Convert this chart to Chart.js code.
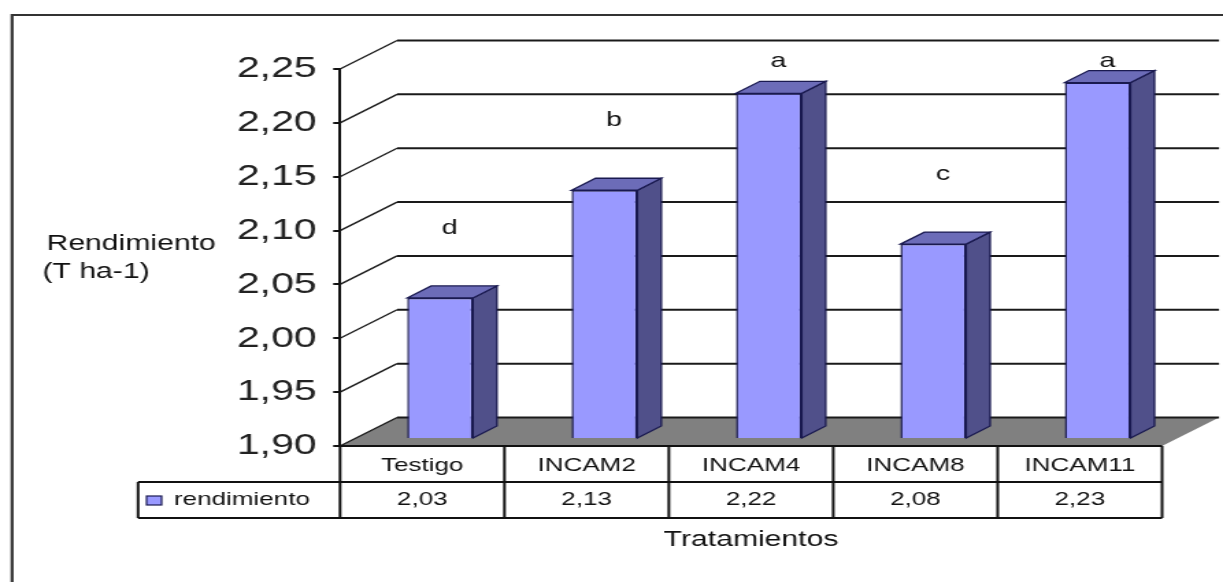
<!DOCTYPE html>
<html>
<head>
<meta charset="utf-8">
<script src="https://cdn.jsdelivr.net/npm/chart.js@4/dist/chart.umd.min.js"></script>
<style>
  html, body { margin: 0; padding: 0; background: #fff; overflow: hidden; }
  /* the picture is an old Excel export stretched sideways, so the canvas is too */
  #rendChart { display: block; width: 1223px; height: 582px; }
</style>
</head>
<body>
<canvas id="rendChart" width="893" height="582" style="width:1223px;height:582px"></canvas>
<script>
// datos
const tratamientos = ['Testigo', 'INCAM2', 'INCAM4', 'INCAM8', 'INCAM11'];
const rendimiento = [2.03, 2.13, 2.22, 2.08, 2.23];
const letras = ['d', 'b', 'a', 'c', 'a'];
const yTicks = [1.90, 1.95, 2.00, 2.05, 2.10, 2.15, 2.20, 2.25];

const coma = v => v.toFixed(2).replace('.', ',');
const FONT = '"Liberation Sans", Arial, sans-serif';

// profundidad del efecto 3D (pared de fondo) y de las barras
const DX = 41.6, DY = -28.5;
const BAR_OFF_X = 13, BAR_OFF_Y = -8;
const BAR_DX = 17.5, BAR_DY = -12;

const excel3d = {
  id: 'excel3d',
  beforeDatasetsDraw(chart) {
    const { ctx, chartArea: a, scales: { y } } = chart;
    ctx.save();
    // piso gris
    ctx.fillStyle = '#808080';
    ctx.beginPath();
    ctx.moveTo(a.left, a.bottom);
    ctx.lineTo(a.left + DX, a.bottom + DY);
    ctx.lineTo(a.right + DX, a.bottom + DY);
    ctx.lineTo(a.right, a.bottom);
    ctx.closePath();
    ctx.fill();

    // lineas de la pared lateral y de fondo
    ctx.strokeStyle = '#1a1a1a';
    yTicks.forEach(v => {
      const py = y.getPixelForValue(v);
      ctx.lineWidth = 1.4;
      ctx.beginPath();
      ctx.moveTo(a.left, py);
      ctx.lineTo(a.left + DX, py + DY);
      ctx.stroke();
      ctx.lineWidth = 2;
      ctx.beginPath();
      ctx.moveTo(a.left + DX, py + DY);
      ctx.lineTo(a.right + DX, py + DY);
      ctx.stroke();
    });

    // caras laterales y superiores de las barras
    const floor = y.getPixelForValue(yTicks[0]);
    ctx.translate(BAR_OFF_X, BAR_OFF_Y);
    ctx.lineWidth = 1.3;
    ctx.strokeStyle = '#1a1a50';
    chart.getDatasetMeta(0).data.forEach(bar => {
      const l = bar.x - bar.width / 2, r = bar.x + bar.width / 2;
      const base = Math.min(bar.base, floor);
      ctx.fillStyle = '#50508a';
      ctx.beginPath();
      ctx.moveTo(r, bar.y);
      ctx.lineTo(r + BAR_DX, bar.y + BAR_DY);
      ctx.lineTo(r + BAR_DX, base + BAR_DY);
      ctx.lineTo(r, base);
      ctx.closePath();
      ctx.fill();
      ctx.stroke();
      ctx.fillStyle = '#6c6cb8';
      ctx.beginPath();
      ctx.moveTo(l, bar.y);
      ctx.lineTo(l + BAR_DX, bar.y + BAR_DY);
      ctx.lineTo(r + BAR_DX, bar.y + BAR_DY);
      ctx.lineTo(r, bar.y);
      ctx.closePath();
      ctx.fill();
      ctx.stroke();
    });
    ctx.restore();

    // las caras frontales las dibuja Chart.js, desplazadas hacia el fondo
    ctx.save();
    ctx.translate(BAR_OFF_X, BAR_OFF_Y);
  },
  afterDatasetsDraw(chart) {
    chart.ctx.restore();
  },
  afterDraw(chart) {
    const { ctx, chartArea: a, scales: { x, y } } = chart;
    ctx.save();

    // letras de significancia
    ctx.fillStyle = '#111';
    ctx.font = '21px ' + FONT;
    ctx.textAlign = 'center';
    ctx.textBaseline = 'middle';
    chart.getDatasetMeta(0).data.forEach((bar, i) => {
      const lv = Math.min(rendimiento[i] + 0.065, 2.25);
      ctx.fillText(letras[i], bar.x + BAR_OFF_X + 7, y.getPixelForValue(lv) + BAR_OFF_Y);
    });

    // tabla de datos
    const row1 = a.bottom, row2 = a.bottom + 36, row3 = a.bottom + 72;
    const legLeft = 100.8;
    ctx.strokeStyle = '#111';
    ctx.lineWidth = 2;
    ctx.beginPath();
    ctx.moveTo(a.left, row1); ctx.lineTo(a.right, row1);
    ctx.moveTo(legLeft, row2); ctx.lineTo(a.right, row2);
    ctx.moveTo(legLeft, row3); ctx.lineTo(a.right, row3);
    ctx.moveTo(legLeft, row2); ctx.lineTo(legLeft, row3);
    const colW = (a.right - a.left) / tratamientos.length;
    for (let i = 0; i <= tratamientos.length; i++) {
      const cx = a.left + i * colW;
      ctx.moveTo(cx, row1); ctx.lineTo(cx, row3);
    }
    ctx.stroke();

    ctx.font = '19px ' + FONT;
    ctx.fillStyle = '#111';
    rendimiento.forEach((v, i) => {
      ctx.fillText(coma(v), x.getPixelForValue(i), (row2 + row3) / 2);
    });

    // leyenda
    ctx.fillStyle = '#9999ff';
    ctx.fillRect(107, 496, 11, 9);
    ctx.lineWidth = 1.2;
    ctx.strokeStyle = '#1a1a50';
    ctx.strokeRect(107, 496, 11, 9);
    ctx.fillStyle = '#111';
    ctx.textAlign = 'left';
    ctx.fillText('rendimiento', 127, (row2 + row3) / 2);

    // titulos de ejes
    ctx.font = '22px ' + FONT;
    ctx.fillText('Rendimiento', 34, 244);
    ctx.fillText('(T ha-1)', 31, 272);
    ctx.textAlign = 'center';
    ctx.fillText('Tratamientos', (a.left + a.right) / 2, 540);

    // marco del grafico
    ctx.strokeStyle = '#333';
    ctx.lineWidth = 2.2;
    ctx.beginPath();
    ctx.moveTo(8.8, chart.height);
    ctx.lineTo(8.8, 15);
    ctx.lineTo(chart.width, 15);
    ctx.stroke();
    ctx.restore();
  }
};

const ctx = document.getElementById('rendChart').getContext('2d');
new Chart(ctx, {
  type: 'bar',
  data: {
    labels: tratamientos,
    datasets: [{
      label: 'rendimiento',
      data: rendimiento,
      backgroundColor: '#9999ff',
      borderColor: '#1a1a50',
      borderWidth: 1.5,
      barPercentage: 0.4,
      categoryPercentage: 1
    }]
  },
  options: {
    responsive: false,
    devicePixelRatio: 1,
    animation: false,
    layout: { padding: { left: 0, right: 44.5, top: 69, bottom: 100 } },
    plugins: { legend: { display: false }, tooltip: { enabled: false } },
    scales: {
      x: {
        grid: { display: false },
        border: { display: false },
        ticks: { color: '#111', font: { family: FONT, size: 19 }, padding: 0 },
        afterFit: s => { s.height = 36; }
      },
      y: {
        min: 1.90,
        max: 2.25,
        afterBuildTicks: s => { s.ticks = yTicks.map(v => ({ value: v })); },
        grid: { drawOnChartArea: false, drawTicks: true, tickLength: 5, color: '#111', lineWidth: 2 },
        border: { display: true, color: '#111', width: 2 },
        ticks: {
          color: '#222',
          padding: 12,
          font: { family: FONT, size: 30 },
          callback: v => coma(v)
        },
        afterFit: s => { s.width = 248.3; }
      }
    }
  },
  plugins: [excel3d]
});
</script>
</body>
</html>
